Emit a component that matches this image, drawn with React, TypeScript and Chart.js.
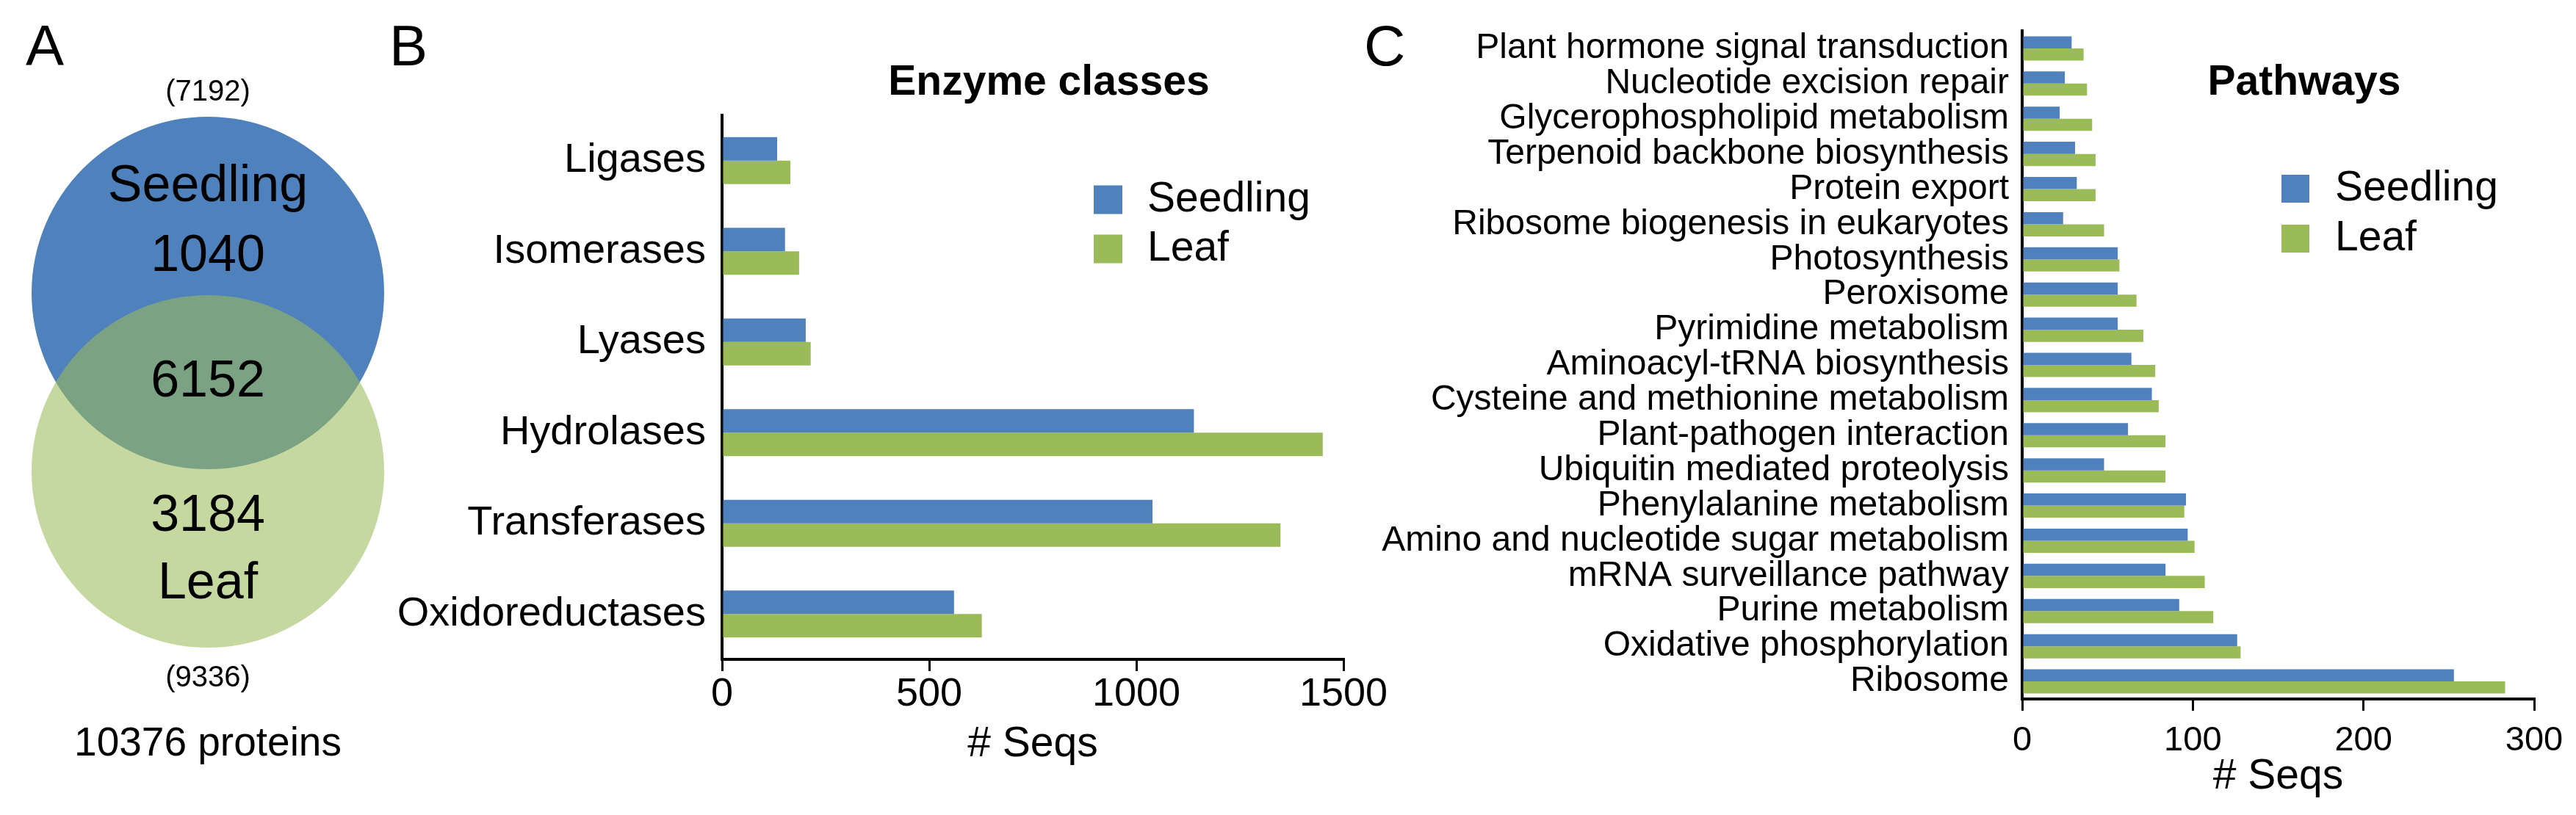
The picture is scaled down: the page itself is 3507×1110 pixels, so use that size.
import { useEffect, useRef } from 'react';
import { Chart, registerables } from 'chart.js';

Chart.register(...registerables);

const FONT = "'Liberation Sans', Arial, Helvetica, sans-serif";
const BLUE = '#4F81BD';
const GREEN = '#9BBB59';
const GREEN_VENN = 'rgba(155,187,89,0.58)';

// ---------- Panel A: Venn ----------
const vennSets = ['Seedling', 'Leaf'];
const vennTotals = [7192, 9336];
const vennUnique = [1040, 3184];
const vennShared = 6152;
const vennAllProteins = 10376;
const vennCenterY = [1, -1];

// ---------- Panel B: Enzyme classes ----------
const seriesNames = ['Seedling', 'Leaf'];
const enzymeClasses = ['Ligases', 'Isomerases', 'Lyases', 'Hydrolases', 'Transferases', 'Oxidoreductases'];
const enzymeSeedling = [133, 152, 202, 1139, 1039, 560];
const enzymeLeaf = [165, 186, 214, 1450, 1348, 627];
const enzymeTicks = [0, 500, 1000, 1500];

// ---------- Panel C: Pathways ----------
const pathways = [
  'Plant hormone signal transduction',
  'Nucleotide excision repair',
  'Glycerophospholipid metabolism',
  'Terpenoid backbone biosynthesis',
  'Protein export',
  'Ribosome biogenesis in eukaryotes',
  'Photosynthesis',
  'Peroxisome',
  'Pyrimidine metabolism',
  'Aminoacyl-tRNA biosynthesis',
  'Cysteine and methionine metabolism',
  'Plant-pathogen interaction',
  'Ubiquitin mediated proteolysis',
  'Phenylalanine metabolism',
  'Amino and nucleotide sugar metabolism',
  'mRNA surveillance pathway',
  'Purine metabolism',
  'Oxidative phosphorylation',
  'Ribosome',
];
const pathwaySeedling = [29, 25, 22, 31, 32, 24, 56, 56, 56, 64, 76, 62, 48, 96, 97, 84, 92, 126, 253];
const pathwayLeaf = [36, 38, 41, 43, 43, 48, 57, 67, 71, 78, 80, 84, 84, 95, 101, 107, 112, 128, 283];
const pathwayTicks = [0, 100, 200, 300];

const H = 1110;

// layout of venn canvas
const A_W = 566;
const VENN_R = 240;
const VENN_TOP_CY = 399;
const VENN_BOT_CY = 642;

const B_LAYOUT = {
  canvasLeft: 500, canvasWidth: 1460,
  areaLeft: 983, areaRight: 1829, areaTop: 157, areaBottom: 898,
  labelFont: 56, tickFont: 54, labelPad: 22, tickPad: 0, titlePadBottom: 62, catPct: 0.52,
  letter: 'B', letterX: 530, title: 'Enzyme classes', titleX: 1428, titleY: 113,
  legendX: 1489, legendTextX: 1562, legendY: [272, 339], sq: 39,
};
const C_LAYOUT = {
  canvasLeft: 1840, canvasWidth: 1667,
  areaLeft: 2753, areaRight: 3450, areaTop: 42, areaBottom: 952,
  labelFont: 48, tickFont: 47, labelPad: 18, tickPad: 13, titlePadBottom: 18, catPct: 0.69,
  letter: 'C', letterX: 1857, title: 'Pathways', titleX: 3137, titleY: 113,
  legendX: 3106, legendTextX: 3179, legendY: [257, 325], sq: 38,
};

function decorPlugin(L: any) {
  return {
    id: 'decor',
    afterDraw(chart: any) {
      const ctx = chart.ctx;
      const ox = L.canvasLeft;
      ctx.save();
      ctx.fillStyle = '#000';
      ctx.textBaseline = 'middle';
      ctx.textAlign = 'left';
      ctx.font = `78px ${FONT}`;
      ctx.fillText(L.letter, L.letterX - ox, 67);
      ctx.font = `bold 57px ${FONT}`;
      ctx.textAlign = 'center';
      ctx.fillText(L.title, L.titleX - ox, L.titleY);
      ctx.textAlign = 'left';
      ctx.font = `57px ${FONT}`;
      chart.data.datasets.forEach((ds: any, i: number) => {
        const cy = L.legendY[i];
        ctx.fillStyle = ds.backgroundColor;
        ctx.fillRect(L.legendX - ox, cy - L.sq / 2, L.sq, L.sq);
        ctx.fillStyle = '#000';
        ctx.fillText(ds.label, L.legendTextX - ox, cy);
      });
      ctx.restore();
    },
  };
}

function barConfig(L: any, labels: string[], seedling: number[], leaf: number[], tickVals: number[]): any {
  return {
    type: 'bar',
    data: {
      labels,
      datasets: [
        { label: seriesNames[0], data: seedling, backgroundColor: BLUE, borderWidth: 0, categoryPercentage: L.catPct, barPercentage: 1 },
        { label: seriesNames[1], data: leaf, backgroundColor: GREEN, borderWidth: 0, categoryPercentage: L.catPct, barPercentage: 1 },
      ],
    },
    options: {
      indexAxis: 'y',
      animation: false,
      responsive: false,
      events: [],
      layout: {
        autoPadding: false,
        padding: { left: 0, top: L.areaTop, bottom: 0, right: L.canvasWidth - (L.areaRight - L.canvasLeft) },
      },
      scales: {
        x: {
          type: 'linear',
          position: 'bottom',
          min: tickVals[0],
          max: tickVals[tickVals.length - 1],
          afterBuildTicks: (s: any) => { s.ticks = tickVals.map((v) => ({ value: v })); },
          ticks: {
            font: { size: L.tickFont, family: FONT }, padding: L.tickPad, maxRotation: 0, autoSkip: false, color: '#000',
            callback: (v: any) => String(v),
          },
          grid: { display: true, drawOnChartArea: false, drawTicks: true, tickLength: 16, color: '#000', lineWidth: 3 },
          border: { display: true, color: '#000', width: 4 },
          title: { display: true, text: '# Seqs', color: '#000', font: { size: 57, family: FONT }, padding: { top: 0, bottom: L.titlePadBottom } },
          afterFit: (s: any) => { s.height = H - L.areaBottom; s.paddingLeft = 0; s.paddingRight = 0; },
        },
        y: {
          type: 'category',
          position: 'left',
          offset: true,
          ticks: { font: { size: L.labelFont, family: FONT }, padding: L.labelPad, autoSkip: false, color: '#000' },
          grid: { display: false, drawTicks: false },
          border: { display: true, color: '#000', width: 4 },
          afterFit: (s: any) => { s.width = L.areaLeft - L.canvasLeft; s.paddingTop = 0; s.paddingBottom = 0; },
        },
      },
      plugins: {
        legend: { display: false },
        title: { display: false },
        tooltip: { enabled: false },
        colors: { enabled: false },
      },
    },
    plugins: [decorPlugin(L)],
  };
}

function vennConfig(): any {
  const unit = (VENN_BOT_CY - VENN_TOP_CY) / (vennCenterY[0] - vennCenterY[1]);
  const yMax = vennCenterY[0] + VENN_TOP_CY / unit;
  const yMin = vennCenterY[1] - (H - VENN_BOT_CY) / unit;
  const textPlugin = {
    id: 'vennText',
    afterDatasetsDraw(chart: any) {
      const { ctx } = chart;
      const xs = chart.scales.x;
      const ys = chart.scales.y;
      const cx = xs.getPixelForValue(0);
      const cTop = ys.getPixelForValue(vennCenterY[0]);
      const cBot = ys.getPixelForValue(vennCenterY[1]);
      ctx.save();
      ctx.fillStyle = '#000';
      ctx.textAlign = 'left';
      ctx.textBaseline = 'middle';
      ctx.font = `78px ${FONT}`;
      ctx.fillText('A', 35, 67);
      ctx.textAlign = 'center';
      ctx.font = `40px ${FONT}`;
      ctx.fillText(`(${vennTotals[0]})`, cx, cTop - VENN_R - 33);
      ctx.fillText(`(${vennTotals[1]})`, cx, cBot + VENN_R + 42);
      ctx.font = `70px ${FONT}`;
      ctx.fillText(vennSets[0], cx, cTop - 144);
      ctx.fillText(String(vennUnique[0]), cx, cTop - 49);
      ctx.fillText(String(vennShared), cx, (cTop + cBot) / 2);
      ctx.fillText(String(vennUnique[1]), cx, cBot + 62);
      ctx.fillText(vennSets[1], cx, cBot + 154);
      ctx.font = `55px ${FONT}`;
      ctx.fillText(`${vennAllProteins} proteins`, cx, cBot + VENN_R + 132);
      ctx.restore();
    },
  };
  return {
    type: 'scatter',
    data: {
      datasets: [
        { label: vennSets[0], data: [{ x: 0, y: vennCenterY[0] }], pointRadius: VENN_R, pointHoverRadius: VENN_R, backgroundColor: BLUE, pointBackgroundColor: BLUE, pointBorderWidth: 0, borderWidth: 0, order: 2, clip: false },
        { label: vennSets[1], data: [{ x: 0, y: vennCenterY[1] }], pointRadius: VENN_R, pointHoverRadius: VENN_R, backgroundColor: GREEN_VENN, pointBackgroundColor: GREEN_VENN, pointBorderWidth: 0, borderWidth: 0, order: 1, clip: false },
      ],
    },
    options: {
      animation: false,
      responsive: false,
      events: [],
      layout: { padding: 0, autoPadding: false },
      scales: {
        x: { type: 'linear', display: false, min: -1, max: 1, bounds: 'data' },
        y: { type: 'linear', display: false, min: yMin, max: yMax, bounds: 'data' },
      },
      plugins: { legend: { display: false }, tooltip: { enabled: false }, colors: { enabled: false } },
    },
    plugins: [textPlugin],
  };
}

export default function App() {
  const aRef = useRef<HTMLCanvasElement>(null);
  const bRef = useRef<HTMLCanvasElement>(null);
  const cRef = useRef<HTMLCanvasElement>(null);

  useEffect(() => {
    document.body.style.margin = '0';
    Chart.defaults.font.family = FONT;
    Chart.defaults.color = '#000';
    const charts = [
      new Chart(aRef.current as HTMLCanvasElement, vennConfig()),
      new Chart(bRef.current as HTMLCanvasElement, barConfig(B_LAYOUT, enzymeClasses, enzymeSeedling, enzymeLeaf, enzymeTicks)),
      new Chart(cRef.current as HTMLCanvasElement, barConfig(C_LAYOUT, pathways, pathwaySeedling, pathwayLeaf, pathwayTicks)),
    ];
    return () => charts.forEach((c) => c.destroy());
  }, []);

  return (
    <div style={{ position: 'absolute', left: 0, top: 0, width: 3507, height: H, background: '#fff', overflow: 'hidden' }}>
      <canvas ref={aRef} width={A_W} height={H} style={{ position: 'absolute', left: 0, top: 0, width: A_W, height: H }} />
      <canvas ref={bRef} width={B_LAYOUT.canvasWidth} height={H} style={{ position: 'absolute', left: B_LAYOUT.canvasLeft, top: 0, width: B_LAYOUT.canvasWidth, height: H }} />
      <canvas ref={cRef} width={C_LAYOUT.canvasWidth} height={H} style={{ position: 'absolute', left: C_LAYOUT.canvasLeft, top: 0, width: C_LAYOUT.canvasWidth, height: H }} />
    </div>
  );
}
